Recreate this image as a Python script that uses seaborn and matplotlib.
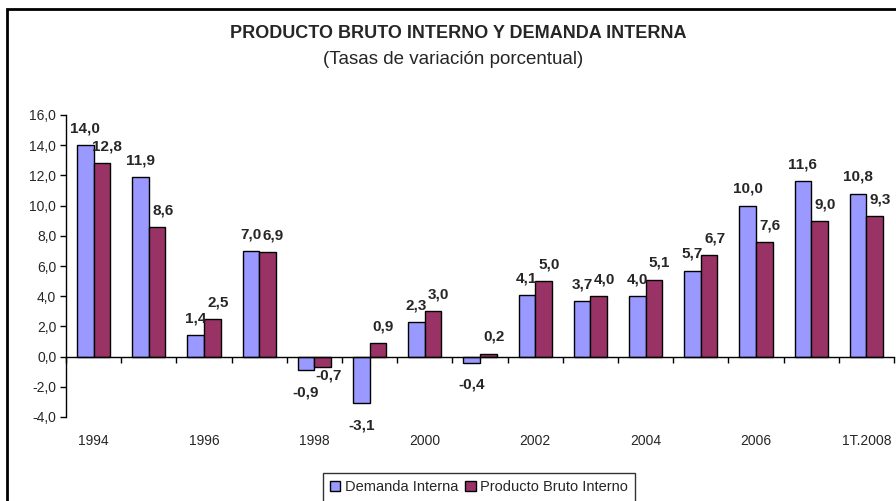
import pandas as pd
import matplotlib.pyplot as plt
import seaborn as sns
from matplotlib.patches import Rectangle
from matplotlib.ticker import MultipleLocator, FuncFormatter

periodos = ['1994', '1995', '1996', '1997', '1998', '1999', '2000', '2001',
            '2002', '2003', '2004', '2005', '2006', '2007', '1T.2008']
demanda_interna = [14.0, 11.9, 1.4, 7.0, -0.9, -3.1, 2.3, -0.4, 4.1, 3.7, 4.0, 5.7, 10.0, 11.6, 10.8]
pbi = [12.8, 8.6, 2.5, 6.9, -0.7, 0.9, 3.0, 0.2, 5.0, 4.0, 5.1, 6.7, 7.6, 9.0, 9.3]
series = ['Demanda Interna', 'Producto Bruto Interno']
colores = ['#9999FF', '#993366']

df = pd.DataFrame({
    'periodo': periodos * 2,
    'valor': demanda_interna + pbi,
    'serie': [series[0]] * len(periodos) + [series[1]] * len(periodos),
})

sns.set_style('ticks')
plt.rcParams['font.family'] = ['Liberation Sans', 'DejaVu Sans']

W, H = 896, 501
fig = plt.figure(figsize=(W / 100, H / 100), dpi=100)
ax = fig.add_axes([66 / W, 1 - 417 / H, (894 - 66) / W, (417 - 115) / H])

sns.barplot(data=df, x='periodo', y='valor', hue='serie', palette=colores,
            width=0.6, edgecolor='black', linewidth=1, saturation=1,
            errorbar=None, ax=ax)

ax.set_xlim(-0.5, len(periodos) - 0.5)
ax.set_ylim(-4, 16)
ax.yaxis.set_major_locator(MultipleLocator(2))
ax.yaxis.set_major_formatter(FuncFormatter(lambda v, p: f'{v:.1f}'.replace('.', ',')))
ax.tick_params(axis='y', labelsize=10, length=4, width=1, color='black', pad=3)

# x axis sits at zero, labels drawn far below
ax.spines['bottom'].set_position(('data', 0))
ax.spines['top'].set_visible(False)
ax.spines['right'].set_visible(False)
for s in ['left', 'bottom']:
    ax.spines[s].set_color('black')
    ax.spines[s].set_linewidth(1)
ax.set_xticks(range(0, len(periodos), 2))
ax.set_xticklabels(periodos[::2])
ax.set_xticks([i - 0.5 for i in range(len(periodos) + 1)], minor=True)
ax.tick_params(axis='x', which='major', length=0, labelsize=10, pad=56)
ax.tick_params(axis='x', which='minor', length=4, width=1, color='black', direction='out')
ax.set_xlabel('')
ax.set_ylabel('')

# data labels
for k, cont in enumerate(ax.containers):
    dx = 0 if k == 0 else 4
    for bar, v in zip(cont, [demanda_interna, pbi][k]):
        x = bar.get_x() + bar.get_width() / 2
        if v >= 0:
            dy = 12
        else:
            dy = -16 if k == 0 else -6
        ax.annotate(f'{v:.1f}'.replace('.', ','), (x, v), xytext=(dx, dy),
                    textcoords='offset points', ha='center', va='center',
                    fontsize=11, fontweight='bold', annotation_clip=False)

leg = ax.legend(loc='upper center', bbox_to_anchor=(479 / W, 1 - 473 / H),
                bbox_transform=fig.transFigure, ncol=2, frameon=True, fancybox=False,
                fontsize=10.5, handlelength=0.7, handleheight=0.7, handletextpad=0.3,
                columnspacing=0.5, borderpad=0.5, borderaxespad=0)
leg.get_frame().set_edgecolor('black')
leg.get_frame().set_linewidth(1)

fig.text(458 / W, 1 - 33 / H, 'PRODUCTO BRUTO INTERNO Y DEMANDA INTERNA',
         ha='center', va='center', fontsize=13, fontweight='bold')
fig.text(453 / W, 1 - 60 / H, '(Tasas de variación porcentual)',
         ha='center', va='center', fontsize=13.5)

fig.patches.append(Rectangle((7 / W, -0.1), 1.2, 1 - 9 / H + 0.1, transform=fig.transFigure,
                             fill=False, edgecolor='black', linewidth=2))

fig.savefig('out.png', dpi=100)
